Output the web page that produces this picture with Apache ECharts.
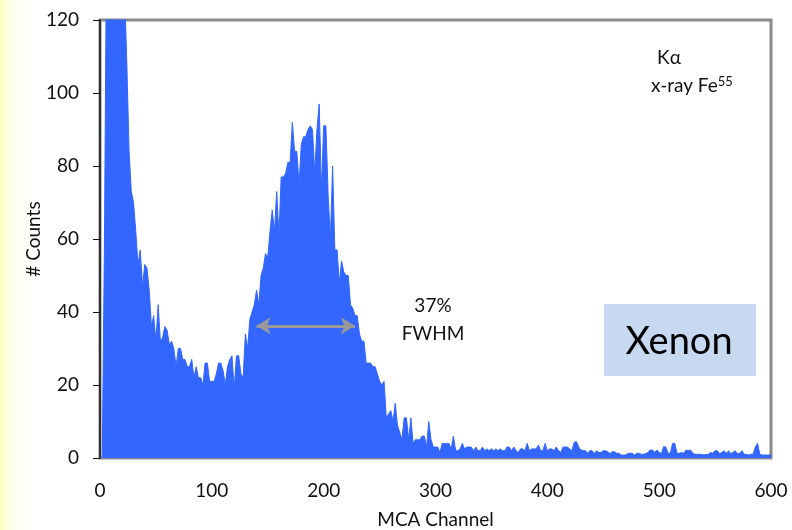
<!DOCTYPE html>
<html>
<head>
<meta charset="utf-8">
<script src="https://cdn.jsdelivr.net/npm/echarts@6/dist/echarts.min.js"></script>
<style>
  html, body { margin: 0; padding: 0; background: #fff; }
  #chart { width: 792px; height: 530px; }
</style>
</head>
<body>
<div id="chart"></div>
<script>
// MCA spectrum, one value every 2 channels (0..600)
const channelStep = 2;
const counts = [
  0, 0, 60, 150, 180, 200, 210, 200, 185, 170,
  150, 128, 108, 84, 73, 70, 62, 53, 57, 47,
  53, 52, 46, 36, 39, 32, 42, 32, 33, 36,
  35, 31, 32, 30, 25, 30, 30, 27, 27, 25,
  25, 27, 22, 25, 22, 22, 20, 26, 26, 21,
  21, 21, 23, 26, 26, 24, 20, 25, 27, 28,
  19, 28, 28, 23, 22, 34, 30, 38, 40, 42,
  46, 42, 50, 52, 56, 55, 62, 68, 62, 73,
  61, 77, 77, 78, 81, 81, 92, 84, 84, 75,
  86, 88, 88, 90, 91, 90, 78, 90, 97, 73,
  91, 91, 72, 60, 80, 57, 57, 48, 54, 51,
  50, 50, 42, 41, 39, 39, 34, 32, 32, 26,
  26, 26, 25, 25, 23, 21, 20, 21, 11, 12,
  13, 10, 15, 9, 7, 5, 11, 11, 5, 11,
  4, 5, 5, 5, 6, 6, 3, 10, 5, 3,
  3, 3, 1.5, 4, 4, 4, 4, 2.5, 6, 2,
  2, 2.5, 4, 2.5, 3, 3, 3, 2, 3, 2,
  2, 3, 2, 2.5, 2, 2.5, 2, 2.5, 2, 2.5,
  2, 2, 3, 3, 2, 3, 2, 1.5, 2.5, 2.5,
  2, 4, 2, 2.5, 2.5, 2.5, 3.5, 2, 2, 4,
  2, 2.5, 2.5, 2, 3, 2, 1.5, 3, 3, 3,
  2.5, 2, 4.3, 4.5, 3, 2.2, 2, 2, 1.3, 2,
  2, 1.2, 2, 1.5, 1.5, 2, 2, 1.7, 1.2, 1.7,
  1.7, 1.3, 1.3, 0.8, 0.8, 0.8, 1.2, 1.3, 1.3, 0.8,
  1.3, 1.3, 1, 1, 1.2, 1.5, 2.2, 2.2, 1.5, 2.2,
  1.5, 1.2, 3.1, 3, 1.3, 1.3, 4, 4, 1.3, 1.3,
  1.5, 1.3, 2.2, 2, 2.2, 1.3, 1, 1, 1, 1,
  0.8, 1, 1, 1.5, 1.3, 2, 2, 1.2, 1.5, 2,
  1.2, 2, 1.2, 1.5, 2, 1.2, 1.2, 2, 1, 1,
  0.8, 1, 1, 3, 4, 1, 0.8, 0.8, 0.8, 0.8,
  1
];

// FWHM arrow ends (channel, counts)
const fwhmFrom = [140, 36.2];
const fwhmTo = [228, 36.2];

const xTicks = [0, 600, 100];
const yTicks = [0, 120, 20];

const font = 'Lato, "Open Sans", sans-serif';
const ink = '#111';
const chart = echarts.init(document.getElementById('chart'), null, { renderer: 'canvas' });

chart.setOption({
  animation: false,
  backgroundColor: '#fff',
  textStyle: { fontFamily: font },
  grid: {
    left: 100, right: 21, top: 20, bottom: 72,
    outerBoundsMode: 'none',
    show: true, borderColor: '#8a8a8a', borderWidth: 3
  },
  xAxis: {
    type: 'value',
    min: xTicks[0], max: xTicks[1], interval: xTicks[2],
    name: 'MCA Channel',
    nameLocation: 'middle',
    nameGap: 52,
    nameMoveOverlap: false,
    nameTextStyle: { fontSize: 19, color: ink, fontFamily: font },
    axisLine: { show: false },
    axisTick: { show: false },
    splitLine: { show: false },
    axisLabel: { fontSize: 19, color: ink, margin: 23, fontFamily: font }
  },
  yAxis: {
    type: 'value',
    min: yTicks[0], max: yTicks[1], interval: yTicks[2],
    name: '# Counts',
    nameLocation: 'middle',
    nameGap: 57,
    nameMoveOverlap: false,
    nameRotate: 90,
    nameTextStyle: { fontSize: 19, color: ink, fontFamily: font },
    axisLine: { show: true, lineStyle: { color: '#111', width: 1.5 } },
    axisTick: { show: true, length: 7, lineStyle: { color: '#111', width: 1 } },
    splitLine: { show: false },
    axisLabel: { fontSize: 19, color: ink, margin: 21, fontFamily: font }
  },
  graphic: [
    {
      type: 'rect', z: -10, silent: true,
      shape: { x: 0, y: 0, width: 30, height: 530 },
      style: {
        fill: new echarts.graphic.LinearGradient(0, 0, 1, 0, [
          { offset: 0, color: '#ffffc0' },
          { offset: 0.3, color: '#ffffe8' },
          { offset: 1, color: '#ffffff' }
        ])
      }
    },
    {
      type: 'rect', z: 5,
      shape: { x: 604, y: 304, width: 152, height: 72 },
      style: { fill: '#c6d9f0' }
    },
    {
      type: 'text', z: 6,
      x: 679, y: 342,
      style: {
        text: 'Xenon', fontSize: 38, fontFamily: font, fill: '#000',
        align: 'center', verticalAlign: 'middle'
      }
    },
    {
      type: 'text', z: 6,
      x: 669, y: 58,
      style: {
        text: 'Kα', fontSize: 19, fontFamily: font, fill: ink,
        align: 'center', verticalAlign: 'middle'
      }
    },
    {
      type: 'text', z: 6,
      x: 651, y: 75,
      style: {
        text: '{a|x-ray Fe}{s|55}', fontFamily: font, fill: ink,
        rich: {
          a: { fontSize: 19, fontFamily: font, color: ink, height: 22, verticalAlign: 'bottom' },
          s: { fontSize: 13, fontFamily: font, color: ink, padding: [0, 0, 9, 0], verticalAlign: 'bottom' }
        }
      }
    },
    {
      type: 'text', z: 6,
      x: 433, y: 306,
      style: {
        text: '37%', fontSize: 19, fontFamily: font, fill: ink,
        align: 'center', verticalAlign: 'middle'
      }
    },
    {
      type: 'text', z: 6,
      x: 433, y: 334,
      style: {
        text: 'FWHM', fontSize: 19, fontFamily: font, fill: ink,
        align: 'center', verticalAlign: 'middle'
      }
    }
  ],
  series: [
    {
      type: 'line',
      data: counts.map((c, i) => [i * channelStep, c]),
      showSymbol: false,
      symbol: 'none',
      clip: true,
      lineStyle: { color: '#3366ff', width: 1 },
      areaStyle: { color: '#3366ff', opacity: 1 },
      itemStyle: { color: '#3366ff' },
      z: 2,
      markLine: {
        silent: true,
        symbol: ['arrow', 'arrow'],
        symbolSize: [13, 14],
        label: { show: false },
        lineStyle: { color: '#999', width: 3, type: 'solid' },
        data: [[{ coord: fwhmFrom }, { coord: fwhmTo }]]
      }
    }
  ]
});
</script>
</body>
</html>
